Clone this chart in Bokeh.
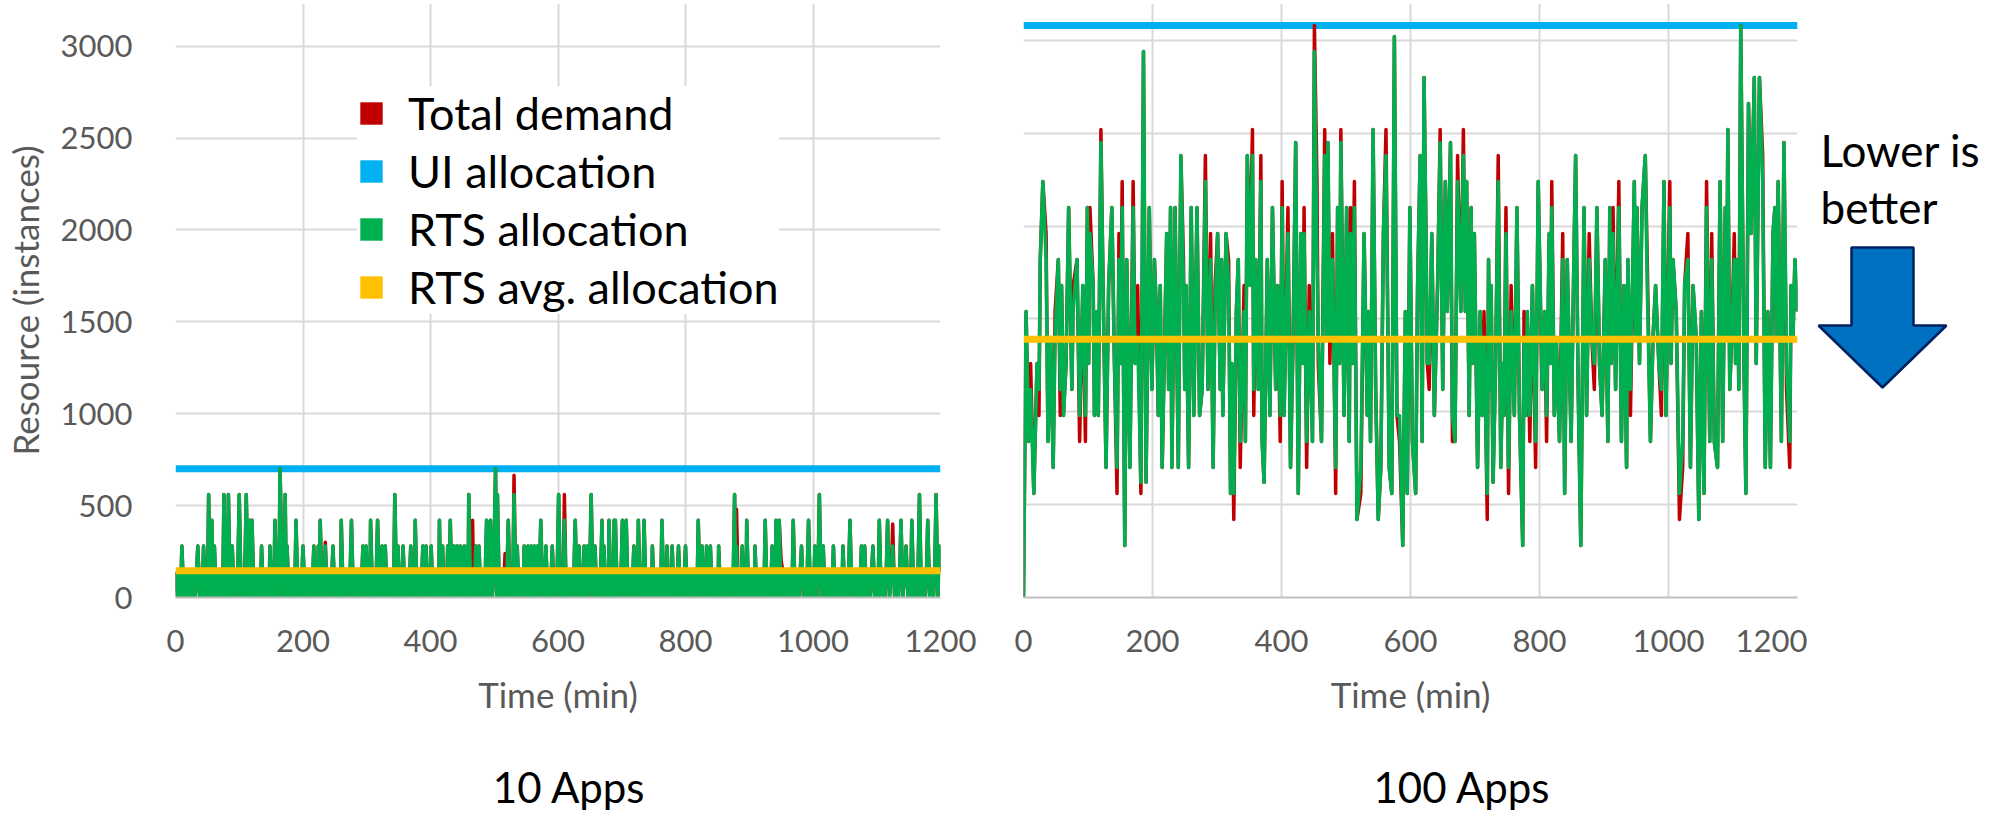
from bokeh.plotting import figure
from bokeh.layouts import gridplot
from bokeh.models import Range1d, SingleIntervalTicker, Legend, LegendItem
from bokeh.embed import file_html
from bokeh.resources import INLINE
from bokeh.core.properties import value

FONT = "Lato"
GREY = "#595959"
GRID = "#D9D9D9"
C_DEMAND = "#C00000"
C_UI = "#00B0F0"
C_RTS = "#00B050"
C_AVG = "#FFC000"

# ---------------------------------------------------------------- data
TIME_SPAN = [0, 1200]            # minutes
PANEL_NAMES = ["10 Apps", "100 Apps"]
SERIES_NAMES = ["Total demand", "UI allocation", "RTS allocation", "RTS avg. allocation"]
UI_ALLOC = [700, 3080]           # uniform (static) allocation, instances
RTS_AVG = [145, 1390]            # mean RTS allocation, instances

# (minute, instances)
ALLOC_10 = [
    (0,140),(3,0),(6,140),(8,0),(10,280),(13,0),(16,140),(19,0),(22,140),(25,0),
    (28,140),(31,0),(35,280),(38,0),(41,140),(42,0),(44,280),(47,0),(49,140),(50,0),
    (52,560),(55,0),(57,420),(59,0),(61,280),(64,0),(67,140),(70,0),(73,140),(74,0),
    (76,560),(79,0),(80,140),(81,0),(83,560),(86,0),(89,280),(92,0),(94,140),(97,0),
    (100,560),(103,0),(106,140),(108,0),(111,560),(114,0),(117,420),(119,0),(120,420),(123,0),
    (126,140),(129,0),(132,140),(133,0),(135,280),(138,0),(141,140),(144,0),(146,140),(147,0),
    (148,280),(151,0),(153,140),(154,0),(156,420),(159,0),(161,140),(162,0),(164,700),(168,0),
    (170,140),(171,0),(172,560),(174,0),(175,280),(178,0),(181,140),(184,0),(186,140),(187,0),
    (189,420),(192,0),(195,140),(197,0),(200,280),(203,0),(206,140),(209,0),(212,140),(214,0),
    (217,280),(220,0),(222,140),(223,0),(224,280),(225,0),(227,420),(230,0),(232,140),(233,0),
    (235,280),(238,0),(241,140),(244,0),(247,280),(250,0),(253,140),(256,0),(258,140),(259,0),
    (260,420),(263,0),(266,140),(269,0),(271,140),(273,0),(276,420),(279,0),(282,140),(285,0),
    (288,140),(291,0),(294,280),(296,0),(299,280),(302,0),(304,140),(305,0),(306,420),(309,0),
    (312,140),(314,0),(317,420),(320,0),(322,140),(323,0),(324,280),(326,0),(329,280),(332,0),
    (335,140),(338,0),(341,140),(342,0),(344,560),(347,0),(349,280),(352,0),(354,140),(355,0),
    (357,280),(360,0),(363,140),(366,0),(369,280),(372,0),(374,140),(375,0),(376,420),(379,0),
    (382,140),(385,0),(388,280),(390,0),(393,280),(396,0),(398,140),(399,0),(401,280),(404,0),
    (407,140),(410,0),(412,140),(413,0),(414,420),(416,0),(419,280),(421,0),(424,140),(425,0),
    (427,280),(429,0),(431,420),(434,0),(437,280),(439,0),(442,280),(444,0),(447,280),(450,0),
    (453,280),(455,0),(458,280),(459,0),(460,560),(463,0),(466,140),(468,0),(471,280),(473,0),
    (476,280),(479,0),(482,140),(485,0),(488,420),(491,0),(494,420),(497,0),(499,140),(502,700),
    (504,0),(505,560),(508,0),(511,140),(514,0),(517,140),(519,0),(522,420),(525,0),(528,140),(529,0),
    (531,560),(534,0),(536,280),(539,0),(542,140),(545,0),(547,280),(550,0),(553,280),(555,0),
    (558,280),(560,0),(563,280),(565,0),(568,280),(570,0),(573,420),(576,0),(578,140),(579,0),
    (581,280),(584,0),(586,140),(588,0),(591,280),(594,0),(596,140),(598,0),(601,560),(604,0),
    (607,140),(608,0),(610,420),(613,0),(616,140),(619,0),(622,140),(624,0),(627,420),(630,0),
    (633,280),(636,0),(638,140),(639,0),(641,280),(643,0),(646,280),(649,0),(652,560),(655,0),
    (658,280),(661,0),(664,140),(666,0),(669,420),(671,0),(672,280),(675,0),(678,140),(679,0),
    (680,420),(683,0),(686,140),(687,0),(688,420),(689,0),(690,420),(693,0),(696,140),(698,0),
    (701,420),(704,0),(707,420),(710,0),(713,140),(716,0),(719,280),(722,0),(724,140),(725,0),
    (726,420),(729,0),(732,140),(733,0),(735,420),(738,0),(741,140),(744,0),(746,140),(747,0),
    (748,280),(751,0),(754,140),(757,0),(760,140),(761,0),(763,420),(766,0),(769,140),(770,0),
    (771,280),(774,0),(777,140),(778,0),(779,280),(782,0),(785,140),(786,0),(789,280),(792,0),
    (795,140),(797,0),(800,280),(803,0),(806,140),(809,0),(812,140),(815,0),(817,140),(818,0),
    (820,420),(823,0),(826,280),(829,0),(831,140),(832,0),(833,280),(836,0),(839,280),(842,0),
    (845,140),(848,0),(850,140),(851,0),(852,280),(855,0),(858,140),(861,0),(864,140),(867,0),
    (870,140),(873,0),(875,140),(877,560),(879,0),(880,280),(883,0),(886,140),(887,0),(889,280),(892,0),
    (894,140),(895,0),(896,420),(899,0),(902,140),(905,0),(907,140),(908,0),(909,280),(912,0),
    (915,140),(918,0),(921,140),(923,0),(925,420),(928,0),(931,140),(933,0),(936,280),(939,0),
    (941,140),(942,420),(945,0),(947,420),(950,0),(953,140),(956,0),(959,140),(962,0),(965,140),
    (967,0),(969,420),(972,0),(975,140),(978,0),(980,140),(982,280),(985,0),(988,140),(990,0),
    (993,420),(996,0),(999,140),(1001,0),(1003,280),(1006,0),(1008,140),(1010,560),(1013,0),(1016,280),
    (1019,0),(1022,140),(1025,0),(1028,140),(1030,0),(1032,280),(1035,0),(1038,140),(1041,0),(1044,140),
    (1045,0),(1047,280),(1050,0),(1053,140),(1055,0),(1058,420),(1061,0),(1064,140),(1067,0),(1070,140),
    (1073,0),(1076,280),(1078,0),(1081,280),(1084,0),(1087,140),(1090,0),(1092,140),(1094,280),(1097,0),
    (1100,140),(1102,0),(1104,420),(1107,0),(1110,140),(1113,0),(1115,140),(1117,420),(1120,0),(1123,140),
    (1125,280),(1128,0),(1131,140),(1134,0),(1136,140),(1138,420),(1141,0),(1144,140),(1146,280),(1149,0),
    (1152,140),(1153,0),(1155,420),(1158,0),(1161,140),(1164,0),(1167,560),(1170,0),(1173,140),(1176,0),
    (1178,140),(1180,420),(1183,0),(1186,140),(1189,0),(1191,140),(1193,560),(1196,0),(1198,280),(1200,140),
]

DEMAND_10 = [
    (0,140),(3,0),(6,140),(8,0),(10,280),(13,0),(16,140),(19,0),(22,140),(25,0),
    (28,140),(31,0),(35,280),(38,0),(41,140),(42,0),(44,280),(47,0),(49,140),(50,0),
    (52,560),(55,0),(57,420),(59,0),(61,280),(64,0),(67,140),(70,0),(73,140),(74,0),
    (76,560),(79,0),(80,140),(81,0),(83,560),(86,0),(89,280),(92,0),(94,140),(97,0),
    (100,560),(103,0),(106,140),(108,0),(111,560),(114,0),(117,420),(119,0),(120,420),(123,0),
    (126,140),(129,0),(132,140),(133,0),(135,280),(138,0),(141,140),(144,0),(146,140),(147,0),
    (148,280),(151,0),(153,140),(154,0),(156,420),(159,0),(161,140),(162,0),(164,700),(168,0),
    (170,140),(171,0),(172,560),(174,0),(175,280),(178,0),(181,140),(184,0),(186,140),(187,0),
    (189,420),(192,0),(195,140),(197,0),(200,280),(203,0),(206,140),(209,0),(212,140),(214,0),
    (217,280),(220,0),(222,140),(223,0),(224,280),(225,0),(227,420),(230,0),(232,140),(233,0),
    (235,300),(238,0),(241,140),(244,0),(247,280),(250,0),(253,140),(256,0),(258,140),(259,0),
    (260,420),(263,0),(266,140),(269,0),(271,140),(273,0),(276,420),(279,0),(282,140),(285,0),
    (288,140),(291,0),(294,280),(296,0),(299,280),(302,0),(304,140),(305,0),(306,420),(309,0),
    (312,140),(314,0),(317,420),(320,0),(322,140),(323,0),(324,280),(326,0),(329,280),(332,0),
    (335,140),(338,0),(341,140),(342,0),(344,560),(347,0),(349,280),(352,0),(354,140),(355,0),
    (357,280),(360,0),(363,140),(366,0),(369,280),(372,0),(374,140),(375,0),(376,420),(379,0),
    (382,140),(385,0),(388,280),(390,0),(393,280),(396,0),(398,140),(399,0),(401,280),(404,0),
    (407,140),(410,0),(412,140),(413,0),(414,420),(416,0),(419,280),(421,0),(424,140),(425,0),
    (427,280),(429,0),(431,420),(434,0),(437,280),(439,0),(442,280),(444,0),(447,280),(450,0),
    (453,280),(455,0),(458,280),(459,0),(460,560),(463,0),(466,420),(468,0),(471,280),(473,0),
    (476,280),(479,0),(482,140),(485,0),(488,420),(491,0),(494,420),(497,0),(499,140),(502,700),
    (504,0),(505,560),(508,0),(511,140),(514,0),(517,240),(519,0),(522,420),(525,0),(528,140),(529,0),
    (531,665),(534,0),(536,280),(539,0),(542,140),(545,0),(547,280),(550,0),(553,280),(555,0),
    (558,280),(560,0),(563,280),(565,0),(568,280),(570,0),(573,420),(576,0),(578,140),(579,0),
    (581,280),(584,0),(586,140),(588,0),(591,280),(594,0),(596,140),(598,0),(601,560),(604,0),
    (607,140),(608,0),(610,560),(613,0),(616,140),(619,0),(622,140),(624,0),(627,420),(630,0),
    (633,280),(636,0),(638,140),(639,0),(641,280),(643,0),(646,280),(649,0),(652,560),(655,0),
    (658,280),(661,0),(664,140),(666,0),(669,420),(671,0),(672,280),(675,0),(678,140),(679,0),
    (680,420),(683,0),(686,140),(687,0),(688,420),(689,0),(690,420),(693,0),(696,140),(698,0),
    (701,420),(704,0),(707,420),(710,0),(713,140),(716,0),(719,280),(722,0),(724,140),(725,0),
    (726,420),(729,0),(732,140),(733,0),(735,420),(738,0),(741,140),(744,0),(746,140),(747,0),
    (748,280),(751,0),(754,140),(757,0),(760,140),(761,0),(763,420),(766,0),(769,140),(770,0),
    (771,280),(774,0),(777,140),(778,0),(779,280),(782,0),(785,140),(786,0),(789,280),(792,0),
    (795,140),(797,0),(800,280),(803,0),(806,140),(809,0),(812,140),(815,0),(817,140),(818,0),
    (820,420),(823,0),(826,280),(829,0),(831,140),(832,0),(833,280),(836,0),(839,280),(842,0),
    (845,140),(848,0),(850,140),(851,0),(852,280),(855,0),(858,140),(861,0),(864,140),(867,0),
    (870,140),(873,0),(875,140),(877,560),(879,0),(880,480),(883,0),(886,140),(887,0),(889,280),(892,0),
    (894,140),(895,0),(896,420),(899,0),(902,140),(905,0),(907,140),(908,0),(909,280),(912,0),
    (915,140),(918,0),(921,140),(923,0),(925,420),(928,0),(931,140),(933,0),(936,280),(939,0),
    (941,140),(942,420),(945,0),(947,420),(950,200),(953,140),(956,0),(959,140),(962,0),(965,140),
    (967,0),(969,420),(972,0),(975,140),(978,0),(980,140),(982,280),(985,0),(988,140),(990,0),
    (993,420),(996,0),(999,140),(1001,0),(1003,280),(1006,0),(1008,140),(1010,560),(1013,0),(1016,280),
    (1019,0),(1022,140),(1025,0),(1028,140),(1030,0),(1032,280),(1035,0),(1038,140),(1041,0),(1044,140),
    (1045,0),(1047,280),(1050,0),(1053,140),(1055,0),(1058,420),(1061,0),(1064,140),(1067,0),(1070,140),
    (1073,0),(1076,280),(1078,0),(1081,280),(1084,0),(1087,140),(1090,0),(1092,140),(1094,280),(1097,0),
    (1100,140),(1102,0),(1104,420),(1107,0),(1110,140),(1113,0),(1115,140),(1117,420),(1120,0),(1123,140),
    (1125,400),(1128,0),(1131,140),(1134,0),(1136,140),(1138,420),(1141,0),(1144,140),(1146,280),(1149,0),
    (1152,140),(1153,0),(1155,420),(1158,0),(1161,140),(1164,0),(1167,560),(1170,0),(1173,140),(1176,0),
    (1178,140),(1180,420),(1183,0),(1186,140),(1189,0),(1191,140),(1193,560),(1196,0),(1198,280),(1200,140),
]

ALLOC_100 = [
    (0,0),(4,1540),(8,840),(11,1120),(16,560),(21,1260),(24,1120),(26,1820),(30,2240),(35,1820),
    (38,840),(42,1400),(46,700),(49,1400),(54,1820),(57,1120),(59,1680),(62,980),(66,1260),(70,2100),
    (75,1120),(77,1540),(83,1820),(87,980),(92,1680),(96,980),(99,2100),(101,1260),(103,1960),(108,1680),
    (110,980),(114,1540),(116,980),(120,2450),(124,1540),(128,700),(132,1680),(137,2100),(141,1260),(145,700),
    (148,1820),(150,1260),(153,2100),(157,280),(160,1820),(165,700),(170,2100),(173,1260),(177,1400),(182,620),
    (186,2940),(190,620),(195,2100),(199,1120),(203,1820),(206,1540),(209,980),(212,1680),(215,700),(222,1960),
    (225,1120),(228,2100),(230,700),(235,2100),(240,700),(244,2380),(248,1680),(250,1120),(252,1680),(256,700),
    (260,2100),(264,980),(269,2100),(273,980),(277,1120),(282,2240),(286,1120),(290,1820),(294,700),(297,1540),
    (301,1960),(305,1120),(307,1820),(309,980),(314,1960),(318,1680),(321,560),(323,1260),(326,560),(330,1540),
    (333,1820),(336,840),(342,1540),(344,840),(347,2380),(351,1680),(355,2380),(357,1120),(360,1820),(364,1120),
    (368,2240),(370,840),(373,620),(378,1820),(382,980),(386,2100),(391,1120),(394,1680),(398,980),(401,2100),
    (404,980),(410,1960),(414,700),(418,1400),(422,2450),(426,560),(430,1960),(433,1260),(435,1960),(439,840),
    (443,1540),(448,840),(451,2940),(455,1820),(457,1400),(462,840),(467,2380),(470,1400),(472,2450),(475,1400),
    (479,1820),(484,700),(487,2100),(490,1260),(492,2450),(497,980),(501,2100),(505,840),(507,1960),(510,1260),
    (513,2100),(517,420),(523,700),(528,1960),(533,980),(535,1540),(538,840),(542,2520),(546,1120),(550,420),
    (554,700),(558,1960),(562,2380),(567,700),(571,560),(575,3020),(579,980),(583,980),(588,280),(592,1540),
    (595,560),(599,2100),(603,840),(608,560),(611,1680),(615,2380),(618,840),(621,2800),(624,1960),(626,1260),
    (629,1260),(633,1960),(637,980),(642,1680),(646,2450),(650,1120),(654,2240),(657,1540),(662,2450),(665,980),
    (669,840),(673,2240),(678,1540),(682,2380),(685,1540),(687,2240),(691,980),(694,2100),(696,1260),(699,1960),
    (704,700),(708,1540),(711,980),(714,1400),(719,560),(721,1820),(723,1120),(725,1680),(728,620),(732,1260),
    (736,2240),(740,700),(743,1260),(745,980),(748,1960),(752,700),(756,1540),(761,980),(765,2100),(769,980),
    (774,280),(776,1400),(779,980),(781,1540),(785,980),(789,1680),(794,840),(798,2240),(804,1120),(808,1540),
    (811,980),(815,1960),(817,1260),(819,2100),(823,980),(826,1400),(831,840),(836,1820),(839,560),(843,1820),
    (849,840),(852,1540),(856,2380),(860,1120),(864,280),(869,2100),(873,980),(877,1820),(881,1400),(885,1260),
    (889,2100),(893,1260),(897,980),(902,1820),(906,840),(909,2100),(911,1260),(914,1960),(918,1120),(923,2100),
    (927,840),(931,1680),(935,700),(937,1820),(941,1120),(947,2240),(949,1400),(951,2100),(955,1260),(959,2100),
    (964,2380),(967,1680),(972,840),(976,1400),(980,1680),(985,1260),(989,1120),(993,2240),(996,980),(1002,2100),
    (1004,1260),(1007,1820),(1012,1540),(1017,560),(1022,840),(1025,1680),(1030,1820),(1034,700),(1038,1680),(1043,1400),
    (1047,420),(1051,1540),(1055,560),(1059,2100),(1064,840),(1067,1820),(1071,840),(1076,700),(1078,1540),(1080,2240),
    (1084,840),(1088,2100),(1090,1400),(1092,2520),(1095,1120),(1098,1400),(1102,1820),(1104,1260),(1107,1820),(1109,1120),
    (1112,3080),(1117,1260),(1120,560),(1124,2660),(1128,1960),(1133,2800),(1136,1260),(1141,2800),(1146,2240),(1150,700),
    (1154,1540),(1158,700),(1162,1960),(1165,2100),(1167,1400),(1170,2240),(1175,840),(1179,2450),(1183,1260),(1188,840),
    (1190,1680),(1193,1400),(1196,1820),(1200,1540),
]

DEMAND_100 = [
    (0,0),(4,1540),(8,840),(11,1260),(16,560),(21,1260),(24,980),(26,1820),(30,2240),(35,1960),
    (38,840),(42,1400),(46,700),(49,1540),(54,1820),(57,980),(59,1680),(62,980),(66,1260),(70,2100),
    (75,1120),(77,1680),(83,1820),(87,840),(92,1680),(96,840),(99,2100),(101,1260),(103,2100),(108,1680),
    (110,980),(114,1540),(116,980),(120,2520),(124,1540),(128,700),(132,1680),(137,2100),(141,1260),(145,560),
    (148,1960),(150,1260),(153,2240),(157,280),(160,1820),(165,700),(170,2240),(173,1260),(177,1680),(182,560),
    (186,2940),(190,620),(195,2100),(199,1120),(203,1820),(206,1540),(209,980),(212,1680),(215,700),(222,1960),
    (225,1120),(228,2100),(230,700),(235,2100),(240,700),(244,2380),(248,1820),(250,1120),(252,1680),(256,700),
    (260,2100),(264,980),(269,2100),(273,980),(277,1120),(282,2380),(286,1120),(290,1960),(294,700),(297,1680),
    (301,1960),(305,1120),(307,1820),(309,980),(314,1960),(318,1820),(321,560),(323,1260),(326,420),(330,1540),
    (333,1820),(336,700),(342,1680),(344,840),(347,2380),(351,1820),(355,2520),(357,980),(360,1820),(364,1120),
    (368,2380),(370,840),(373,620),(378,1820),(382,980),(386,2100),(391,1120),(394,1680),(398,840),(401,2240),
    (404,980),(410,2100),(414,700),(418,1400),(422,2450),(426,560),(430,1960),(433,1260),(435,2100),(439,700),
    (443,1680),(448,840),(451,3080),(455,2240),(457,1260),(462,840),(467,2520),(470,1400),(472,2450),(475,1260),
    (479,1960),(484,560),(487,2100),(490,1260),(492,2520),(497,980),(501,2100),(505,840),(507,2100),(510,1260),
    (513,2240),(517,420),(523,560),(528,1960),(533,980),(535,1540),(538,840),(542,2520),(546,1120),(550,420),
    (554,700),(558,1960),(562,2520),(567,700),(571,560),(575,3020),(579,980),(583,840),(588,280),(592,1540),
    (595,560),(599,2100),(603,840),(608,560),(611,1680),(615,2380),(618,840),(621,2800),(624,1960),(626,1260),
    (629,1120),(633,1960),(637,980),(642,1680),(646,2520),(650,1120),(654,2240),(657,1540),(662,2450),(665,840),
    (669,840),(673,2380),(678,1540),(682,2520),(685,1540),(687,2240),(691,980),(694,2100),(696,1260),(699,1960),
    (704,700),(708,1540),(711,980),(714,1540),(719,420),(721,1820),(723,1120),(725,1680),(728,620),(732,1260),
    (736,2380),(740,700),(743,1260),(745,980),(748,2100),(752,560),(756,1680),(761,980),(765,2100),(769,980),
    (774,280),(776,1540),(779,980),(781,1540),(785,840),(789,1680),(794,700),(798,2240),(804,1120),(808,1540),
    (811,840),(815,1960),(817,1260),(819,2240),(823,980),(826,1400),(831,840),(836,1960),(839,560),(843,1820),
    (849,840),(852,1540),(856,2380),(860,1120),(864,280),(869,2100),(873,980),(877,1960),(881,1400),(885,1120),
    (889,2100),(893,1260),(897,980),(902,1820),(906,840),(909,2100),(911,1260),(914,2100),(918,1120),(923,2240),
    (927,840),(931,1680),(935,700),(937,1820),(941,980),(947,2240),(949,1400),(951,2100),(955,1260),(959,2100),
    (964,2380),(967,1820),(972,840),(976,1400),(980,1680),(985,1260),(989,980),(993,2240),(996,980),(1002,2240),
    (1004,1260),(1007,1820),(1012,1540),(1017,420),(1022,700),(1025,1680),(1030,1960),(1034,700),(1038,1680),(1043,1400),
    (1047,420),(1051,1540),(1055,560),(1059,2240),(1064,840),(1067,1960),(1071,840),(1076,700),(1078,1540),(1080,2240),
    (1084,840),(1088,2100),(1090,1400),(1092,2520),(1095,1120),(1098,1400),(1102,1960),(1104,1260),(1107,1820),(1109,1120),
    (1112,3080),(1117,1260),(1120,560),(1124,2660),(1128,1960),(1133,2800),(1136,1260),(1141,2800),(1146,2380),(1150,700),
    (1154,1540),(1158,700),(1162,1960),(1165,2100),(1167,1400),(1170,2240),(1175,840),(1179,2450),(1183,1120),(1188,700),
    (1190,1680),(1193,1400),(1196,1820),(1200,1540),
]

PLOT_H, CAPTION_H = 760, 56
TOP, BOTTOM = 3, 163          # plot borders, shared along the top row
FRAME_BOTTOM = PLOT_H - BOTTOM


def style_axes(p, show_y):
    for ax in p.xaxis:
        ax.ticker = SingleIntervalTicker(interval=200)
        ax.axis_label = "Time (min)"
        ax.axis_label_text_font = FONT
        ax.axis_label_text_font_size = "35px"
        ax.axis_label_text_font_style = "normal"
        ax.axis_label_text_color = GREY
        ax.axis_label_standoff = 18
        ax.major_label_text_font = FONT
        ax.major_label_text_font_size = "31px"
        ax.major_label_text_color = GREY
        ax.major_label_standoff = 26
        ax.major_tick_line_color = None
        ax.minor_tick_line_color = None
        ax.axis_line_color = "#BFBFBF"
        ax.axis_line_width = 2
    for ax in p.yaxis:
        ax.ticker = SingleIntervalTicker(interval=500)
        ax.major_tick_line_color = None
        ax.minor_tick_line_color = None
        ax.axis_line_color = None
        if show_y:
            ax.axis_label = "Resource (instances)"
            ax.axis_label_text_font = FONT
            ax.axis_label_text_font_size = "35px"
            ax.axis_label_text_font_style = "normal"
            ax.axis_label_text_color = GREY
            ax.axis_label_standoff = 12
            ax.major_label_text_font = FONT
            ax.major_label_text_font_size = "31px"
            ax.major_label_text_color = GREY
            ax.major_label_standoff = 37
        else:
            ax.visible = False
    p.xgrid.ticker = SingleIntervalTicker(interval=200)
    p.ygrid.ticker = SingleIntervalTicker(interval=500)
    p.grid.grid_line_color = GRID
    p.grid.grid_line_width = 2


def panel(k, alloc, demand, width, left, right, y_end, show_y):
    p = figure(width=width, height=PLOT_H, output_backend="svg", toolbar_location=None,
               x_range=Range1d(*TIME_SPAN), y_range=Range1d(0, y_end),
               min_border_left=left, min_border_right=right,
               min_border_top=TOP, min_border_bottom=BOTTOM)
    p.outline_line_color = None
    p.background_fill_color = "white"
    p.border_fill_color = "white"
    style_axes(p, show_y)

    ta, va = zip(*alloc)
    td, vd = zip(*demand)
    p.line(TIME_SPAN, [UI_ALLOC[k]] * 2, line_color=C_UI, line_width=7)
    p.line(td, vd, line_color=C_DEMAND, line_width=3.5, line_join="round")
    p.line(ta, va, line_color=C_RTS, line_width=3.5, line_join="round")
    p.line(TIME_SPAN, [RTS_AVG[k]] * 2, line_color=C_AVG, line_width=7)
    return p


def caption(k, width, left, right, text_x):
    # strip under a panel; ranges run in pixels across the panel's frame
    frame_w = width - left - right
    c = figure(width=width, height=CAPTION_H, output_backend="svg", toolbar_location=None,
               x_range=Range1d(0, frame_w), y_range=Range1d(CAPTION_H, 0),
               x_axis_type=None, y_axis_type=None,
               min_border_left=left, min_border_right=right,
               min_border_top=0, min_border_bottom=0)
    c.outline_line_color = None
    c.grid.visible = False
    c.text(x=[text_x], y=[26], text=[PANEL_NAMES[k]], text_font=value(FONT),
           text_font_size="42px", text_color="black",
           text_baseline="alphabetic", text_align="left")
    return c


left_fig = panel(0, ALLOC_10, DEMAND_10, 985, 171, 45, 3232, True)
right_fig = panel(1, ALLOC_100, DEMAND_100, 822, 38, 10, 3198, False)
left_cap = caption(0, 985, 171, 45, 319)
right_cap = caption(1, 822, 38, 10, 350)

# colour-key swatches for the legend (no visible data of their own)
nan = float("nan")
swatches = []
for name, col in zip(SERIES_NAMES, [C_DEMAND, C_UI, C_RTS, C_AVG]):
    r = left_fig.quad(left=[nan], right=[nan], top=[nan], bottom=[nan],
                      fill_color=col, line_color=None)
    swatches.append(LegendItem(label=name, renderers=[r]))
legend = Legend(items=swatches, location=(182, 283), glyph_width=28, glyph_height=28,
                label_standoff=23, padding=20, spacing=4, margin=0,
                label_text_font=FONT, label_text_font_size="45px", label_text_color="black",
                background_fill_color="white", background_fill_alpha=1.0,
                border_line_color=None)
left_fig.add_layout(legend)

# side note with a downward arrow; its ranges follow the page's pixel rows
note = figure(width=185, height=PLOT_H, output_backend="svg", toolbar_location=None,
              x_range=Range1d(0, 185), y_range=Range1d(FRAME_BOTTOM, TOP),
              x_axis_type=None, y_axis_type=None,
              min_border_left=0, min_border_right=0,
              min_border_top=TOP, min_border_bottom=BOTTOM)
note.outline_line_color = None
note.grid.visible = False
note.text(x=[13, 13], y=[149, 206], text=["Lower is", "better"],
          text_font=value(FONT), text_font_size="44px", text_color="black",
          text_baseline="alphabetic", text_align="left")
note.patch(x=[44, 106, 106, 139, 75, 11, 44], y=[247, 247, 325, 325, 387, 325, 325],
           fill_color="#0070C0", line_color="#002060", line_width=2.5)

grid = gridplot([[left_fig, right_fig, note], [left_cap, right_cap, None]],
                toolbar_location=None)
open("out.html", "w").write(file_html(grid, INLINE))
